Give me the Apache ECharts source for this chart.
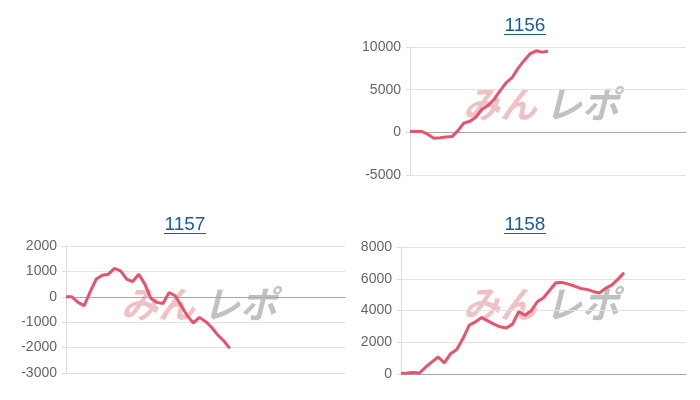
<!DOCTYPE html>
<html><head><meta charset="utf-8">
<script src="https://cdn.jsdelivr.net/npm/echarts@6/dist/echarts.min.js"></script>
<style>html,body{margin:0;padding:0;background:#fff}#c{width:700px;height:400px}</style>
</head><body><div id="c"></div>
<script>
const titles = ['1156', '1157', '1158'];
const data1156 = [100, 100, 100, -250, -700, -630, -550, -500, 200, 1100, 1300, 1800, 2700, 3150, 3850, 4850, 5800, 6400, 7500, 8400, 9200, 9550, 9400, 9500];
const data1157 = [0, 0, -220, -350, 200, 700, 850, 890, 1120, 1020, 700, 600, 890, 500, -65, -220, -260, 170, 40, -350, -750, -1030, -810, -970, -1200, -1500, -1730, -2030];
const data1158 = [40, 60, 100, 60, 440, 760, 1070, 700, 1280, 1540, 2230, 3070, 3280, 3560, 3350, 3140, 2970, 2900, 3140, 3920, 3700, 3980, 4550, 4800, 5280, 5750, 5770, 5660, 5540, 5390, 5330, 5200, 5100, 5390, 5600, 5960, 6380];
const yMin = [-5000, -3000, 0];
const yMax = [10000, 2000, 8000];
const yStep = [5000, 1000, 2000];
const categories = Array.from({length: 47}, (_, i) => String(i + 1));

const grids = [
  {left: 410, right: 14, top: 47, bottom: 225},
  {left: 66, right: 355, top: 246, bottom: 27},
  {left: 401, right: 14, top: 247, bottom: 26}
];
const titlePos = [[525, 16], [185, 215], [525, 215]];
const wmPos = [[543, 104], [201, 304], [543, 304]];
const series = [data1156, data1157, data1158];

const chart = echarts.init(document.getElementById('c'));
const graphic = [];
titles.forEach((t, i) => {
  const [x, y] = titlePos[i];
  graphic.push({type: 'line', z: 10, shape: {x1: x - 21, y1: y + 18.5, x2: x + 21, y2: y + 18.5}, style: {stroke: '#1a5b9c', lineWidth: 1.2}});
  const [wx, wy] = wmPos[i];
  graphic.push({type: 'text', z: 0, x: wx - 6, y: wy, style: {text: 'みん', fill: 'rgba(226,140,148,0.55)', font: 'italic bold 37px "Noto Sans CJK JP"', align: 'right', verticalAlign: 'middle'}});
  graphic.push({type: 'text', z: 0, x: wx + 2, y: wy, style: {text: 'レポ', fill: 'rgba(160,160,160,0.65)', font: 'italic bold 37px "Noto Sans CJK JP"', align: 'left', verticalAlign: 'middle'}});
});

chart.setOption({
  animation: false,
  title: titles.map((t, i) => ({
    text: t, left: titlePos[i][0], top: titlePos[i][1], textAlign: 'center', padding: 0,
    textStyle: {color: '#1a5b9c', fontSize: 19, fontWeight: 'normal', fontFamily: 'Arial, "Liberation Sans", sans-serif'}
  })),
  grid: grids,
  graphic: graphic,
  xAxis: grids.map((g, i) => ({
    type: 'category', gridIndex: i, data: categories, boundaryGap: false,
    axisLabel: {show: false}, axisTick: {show: false}, splitLine: {show: false},
    axisLine: {show: true, onZero: true, lineStyle: {color: '#a8a8a8', width: 1}}
  })),
  yAxis: grids.map((g, i) => ({
    type: 'value', gridIndex: i, min: yMin[i], max: yMax[i], interval: yStep[i],
    axisLine: {show: true, lineStyle: {color: '#dddddd'}},
    axisTick: {show: true, length: 4, lineStyle: {color: '#dddddd'}},
    axisLabel: {color: '#666', fontSize: 14, margin: 9, fontFamily: 'Arial, "Liberation Sans", sans-serif', formatter: v => String(v)},
    splitLine: {show: true, lineStyle: {color: '#e3e3e3', width: 1}}
  })),
  series: series.map((d, i) => ({
    type: 'line', xAxisIndex: i, yAxisIndex: i, data: d, showSymbol: false, z: 5,
    lineStyle: {color: '#e6536d', width: 3}, itemStyle: {color: '#e6536d'}
  }))
});
</script></body></html>
